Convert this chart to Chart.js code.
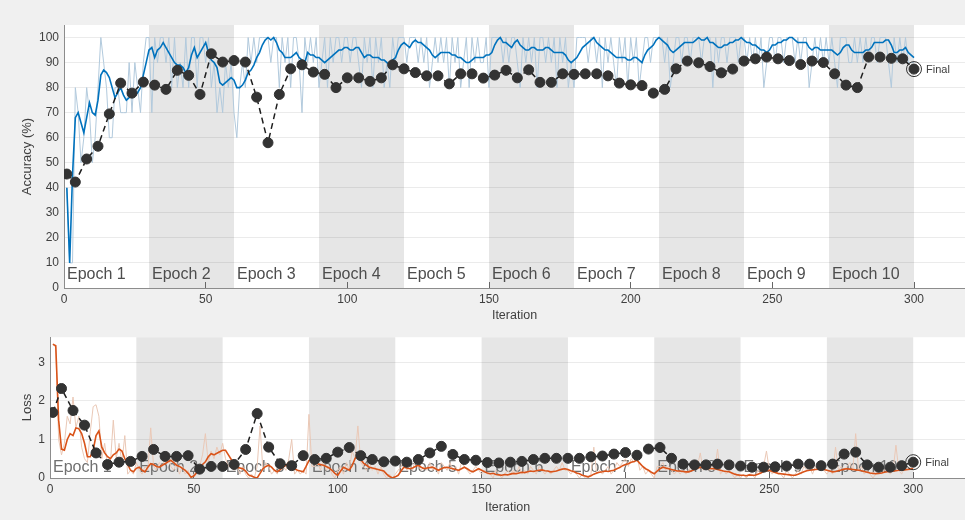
<!DOCTYPE html>
<html>
<head>
<meta charset="utf-8">
<title>Training Progress</title>
<script src="https://cdn.jsdelivr.net/npm/chart.js@4.4.1/dist/chart.umd.min.js"></script>
<style>
  html, body { margin: 0; padding: 0; background: #f0f0f0; }
  #wrap { position: relative; width: 965px; height: 520px; overflow: hidden; }
  .panel { position: absolute; left: 0; width: 965px; }
  #acc-box  { top: 0;     height: 325px; }
  #loss-box { top: 325px; height: 195px; }
</style>
</head>
<body>
<div id="wrap">
  <div class="panel" id="acc-box"><canvas id="chart-acc" width="965" height="325"></canvas></div>
  <div class="panel" id="loss-box"><canvas id="chart-loss" width="965" height="195"></canvas></div>
</div>

<script>
'use strict';

/* ── Run data ── */
const ITERS_PER_EPOCH = 30;
const ITER_MAX = 318;

const epochLabels = ['Epoch 1', 'Epoch 2', 'Epoch 3', 'Epoch 4', 'Epoch 5',
                     'Epoch 6', 'Epoch 7', 'Epoch 8', 'Epoch 9', 'Epoch 10'];

const accTicks  = [0, 10, 20, 30, 40, 50, 60, 70, 80, 90, 100];
const lossTicks = [0, 1, 2, 3];
const iterTicks = [0, 50, 100, 150, 200, 250, 300];

// mini-batch accuracy, one value per iteration (1..300)
const accRaw = [
  40,10,10,80,70,50,60,80,70,50,60,80,100,90,80,60,60,80,80,70,
  70,70,90,70,90,80,70,90,100,100,70,100,90,100,100,90,100,80,100,80,
  90,80,100,80,100,100,80,100,100,90,100,80,90,70,80,70,90,80,90,70,
  60,80,90,80,100,90,100,90,100,100,100,100,90,100,100,80,100,90,100,80,
  100,100,90,70,100,90,100,90,100,80,90,100,80,100,90,100,100,90,100,100,
  90,100,100,90,80,100,90,100,80,100,90,100,80,90,80,100,90,100,100,100,
  90,100,100,100,90,100,90,100,80,90,100,90,100,90,100,80,100,90,100,80,
  90,100,80,100,90,100,90,90,100,80,100,100,100,100,90,100,90,100,100,90,
  80,100,90,100,90,100,80,100,100,90,100,90,100,80,100,90,100,80,90,80,
  100,100,100,100,90,100,100,90,100,80,100,90,100,90,80,100,90,100,80,100,
  90,100,80,90,100,100,90,100,100,100,100,90,100,80,90,100,100,90,100,100,
  90,100,100,100,90,100,100,100,80,100,90,100,100,90,100,100,100,90,100,100,
  90,100,90,100,90,100,80,90,100,100,90,100,100,90,100,100,100,90,100,90,
  100,100,80,90,100,90,100,90,100,90,100,90,80,100,100,100,90,90,100,90,
  100,90,100,90,100,100,90,100,100,100,90,80,100,90,100,90,100,90,90,90,
];

// smoothed accuracy
const accSmooth = [
  40,10,45,68,70,66,62,68,74,70,69,75,85,87,86,84,80,76,78,80,
  77,75,76,77,77,78,80,85,90,95,96,92,95,96,98,96,94,92,90,89,
  89,88,86,88,93,96,92,94,96,98,94,91,90,88,82,81,82,83,84,83,
  80,80,81,83,86,87,89,92,94,97,99,100,99,100,98,95,94,92,92,92,
  93,94,92,91,90,94,93,93,92,92,91,90,91,92,93,94,95,95,96,96,
  95,95,96,96,94,92,93,93,92,92,92,91,91,90,89,91,92,95,97,98,
  97,96,98,99,98,98,97,96,95,93,92,93,94,94,94,94,93,93,92,92,
  91,90,90,91,92,92,92,92,93,93,94,97,99,100,98,98,97,96,98,99,
  97,96,95,95,96,96,95,95,95,96,96,95,94,94,94,94,93,91,90,91,
  92,94,96,97,98,99,100,98,97,96,95,95,94,93,92,92,92,92,91,91,
  92,92,91,90,93,95,96,97,99,100,99,98,97,95,94,95,96,97,98,98,
  98,98,99,100,99,99,100,98,98,97,96,96,97,97,98,98,99,99,100,99,
  98,98,97,97,96,95,95,94,95,97,97,98,98,99,99,100,100,99,98,98,
  98,98,96,95,96,96,95,95,95,95,95,94,93,94,96,97,97,95,94,94,
  94,94,95,95,96,98,98,98,98,99,99,97,94,94,95,95,96,94,93,92,
];

// mini-batch loss, one value per iteration (1..300)
const lossRaw = [
  3.45,3.4,1.0,0.6,0.9,1.6,1.4,2.1,1.3,1.6,0.8,0.5,0.4,1.2,1.85,1.9,1.6,0.5,0.9,0.3,
  0.4,1.5,0.5,0.9,0.4,1.1,0.1,0.2,0.1,0.4,0.2,0.1,0.3,0.2,1.3,0.3,0.2,0.4,0.3,0.5,
  0.6,0.3,0.2,0.4,0.1,0.3,0.1,0.2,0.0,0.1,0.2,0.3,0.6,1.15,0.4,0.7,0.5,0.8,0.6,0.9,
  0.5,0.3,0.4,0.2,0.3,0.1,0.3,0.1,0.0,0.1,0.0,0.3,1.35,0.2,0.4,0.3,0.1,0.2,0.1,0.4,
  0.3,0.2,0.5,1.0,0.1,0.2,0.1,0.2,0.1,1.65,0.3,0.3,0.4,0.2,0.5,0.2,0.3,0.1,0.0,0.2,
  0.3,0.1,0.4,0.2,0.7,0.5,1.35,0.4,0.3,0.2,0.4,0.2,0.3,0.1,0.3,0.1,0.0,0.1,0.0,0.1,
  0.2,0.3,0.5,0.2,0.3,0.2,0.5,0.3,0.2,0.3,0.2,0.4,0.2,0.3,0.1,0.4,0.3,0.2,0.4,0.2,
  0.3,0.1,0.4,0.3,0.2,0.1,0.2,0.3,0.2,0.1,0.2,0.1,0.1,0.0,0.2,0.1,0.0,0.1,0.2,0.1,
  0.2,0.1,0.3,0.1,0.2,0.1,0.3,0.2,0.1,0.3,0.2,0.1,0.2,0.1,0.2,0.3,0.2,0.4,0.2,0.2,
  0.1,0.2,0.1,0.0,0.1,0.0,0.0,0.1,0.8,0.1,0.2,0.1,0.2,0.3,0.1,0.2,0.4,0.3,0.4,0.5,
  0.3,0.5,0.4,0.6,0.2,0.3,0.1,0.2,0.1,0.0,0.3,0.3,0.4,0.2,0.3,0.2,0.1,0.2,0.1,0.2,
  0.1,0.2,0.3,0.2,0.3,0.65,0.2,0.3,0.2,0.3,0.2,0.75,0.1,0.2,0.1,0.2,0.1,0.0,0.1,0.0,
  0.1,0.0,0.1,0.1,0.0,0.2,0.1,0.3,0.7,0.2,0.1,0.2,0.1,0.1,0.0,0.2,0.1,0.0,0.1,0.2,
  0.1,0.3,0.2,0.3,0.1,0.3,0.2,0.3,0.2,0.1,0.2,0.1,0.8,0.2,0.3,0.2,0.3,0.4,0.2,1.15,
  0.2,0.3,0.1,0.2,0.1,0.0,0.1,0.2,0.1,0.2,0.3,0.1,0.2,0.85,0.2,0.1,0.3,0.2,0.3,0.2,
];

// smoothed loss
const lossSmooth = [
  3.47,3.43,1.5,0.75,0.72,1.0,1.15,1.1,1.3,1.28,1.15,0.9,0.55,0.55,0.72,1.1,1.22,0.8,0.65,0.55,
  0.5,0.6,0.65,0.75,0.7,0.5,0.35,0.2,0.16,0.25,0.28,0.2,0.16,0.28,0.37,0.35,0.3,0.28,0.33,0.37,
  0.42,0.46,0.4,0.33,0.3,0.25,0.2,0.12,0.02,0.05,0.14,0.25,0.35,0.42,0.55,0.63,0.6,0.64,0.68,0.72,
  0.72,0.6,0.48,0.35,0.28,0.26,0.24,0.18,0.08,0.05,0.02,0.0,0.12,0.24,0.3,0.33,0.28,0.2,0.16,0.22,
  0.28,0.33,0.4,0.32,0.24,0.2,0.18,0.16,0.3,0.45,0.5,0.42,0.37,0.35,0.33,0.3,0.26,0.2,0.12,0.07,
  0.18,0.28,0.24,0.2,0.32,0.5,0.59,0.48,0.38,0.33,0.28,0.26,0.24,0.22,0.2,0.18,0.1,0.04,0.0,0.03,
  0.07,0.18,0.28,0.26,0.24,0.26,0.3,0.33,0.28,0.24,0.26,0.27,0.28,0.24,0.2,0.24,0.27,0.28,0.26,0.24,
  0.22,0.2,0.24,0.28,0.24,0.19,0.16,0.2,0.24,0.2,0.16,0.13,0.11,0.12,0.09,0.08,0.07,0.09,0.08,0.1,
  0.12,0.11,0.13,0.15,0.14,0.16,0.18,0.17,0.19,0.2,0.21,0.19,0.18,0.16,0.17,0.18,0.21,0.23,0.24,0.22,
  0.19,0.17,0.13,0.11,0.07,0.05,0.03,0.06,0.1,0.13,0.15,0.16,0.18,0.17,0.19,0.2,0.24,0.27,0.32,0.35,
  0.37,0.41,0.43,0.46,0.38,0.3,0.24,0.2,0.15,0.11,0.18,0.24,0.28,0.26,0.24,0.22,0.2,0.18,0.18,0.17,
  0.16,0.16,0.19,0.22,0.25,0.28,0.27,0.26,0.25,0.24,0.24,0.22,0.2,0.18,0.17,0.16,0.13,0.1,0.08,0.07,
  0.07,0.06,0.08,0.07,0.07,0.1,0.13,0.17,0.19,0.2,0.17,0.14,0.12,0.11,0.1,0.09,0.08,0.07,0.07,0.1,
  0.13,0.16,0.19,0.2,0.21,0.22,0.23,0.24,0.22,0.2,0.18,0.16,0.17,0.19,0.21,0.23,0.24,0.23,0.22,0.21,
  0.2,0.19,0.17,0.15,0.13,0.12,0.11,0.12,0.13,0.15,0.16,0.17,0.18,0.19,0.2,0.2,0.21,0.22,0.23,0.24,
];

// validation runs at iteration 1, then every 4 iterations up to 300
const valAcc = [
  45.5,42.3,51.5,56.6,69.5,81.8,77.8,82.2,81.0,79.3,86.9,84.9,77.3,93.5,90.2,90.8,90.2,76.2,58.0,77.3,
  87.5,89.1,86.2,85.3,80.0,83.9,83.9,82.5,83.9,89.1,87.5,86.0,84.7,84.7,81.5,85.5,85.5,83.8,85.0,86.9,
  83.9,87.1,82.1,82.1,85.5,85.3,85.5,85.5,84.7,81.8,81.1,80.8,77.8,79.3,87.5,90.6,89.9,88.4,85.9,87.4,
  90.6,91.5,92.2,91.5,90.8,89.2,90.6,90.0,85.5,81.0,80.0,92.2,92.2,91.7,91.5,87.4,
];
const valLoss = [
  1.70,2.32,1.75,1.37,0.65,0.35,0.41,0.43,0.56,0.74,0.56,0.56,0.58,0.23,0.30,0.30,0.35,0.74,1.67,0.80,
  0.37,0.32,0.58,0.48,0.51,0.67,0.79,0.58,0.48,0.42,0.44,0.41,0.48,0.65,0.82,0.61,0.48,0.46,0.40,0.39,
  0.41,0.43,0.48,0.51,0.51,0.51,0.51,0.55,0.57,0.62,0.66,0.59,0.75,0.79,0.51,0.36,0.34,0.34,0.36,0.34,
  0.31,0.28,0.28,0.29,0.31,0.36,0.36,0.32,0.36,0.62,0.67,0.34,0.28,0.28,0.32,0.41,
];

const iters    = accRaw.map((_, i) => i + 1);
const valIters = valAcc.map((_, i) => (i === 0 ? 1 : i * 4));

/* ── Theme ── */
const C = {
  bg:        '#f0f0f0',
  plot:      '#ffffff',
  band:      '#e6e6e6',
  grid:      'rgba(0,0,0,0.08)',
  axis:      '#8c8c8c',
  text:      '#404040',
  epoch:     '#4d4d4d',
  epochSoft: '#707070',
  accRaw:    '#b2cadd',
  acc:       '#0072bd',
  lossRaw:   '#eac8b6',
  loss:      '#d95319',
  val:       '#1e1e1e',
  marker:    '#333333',
};
const FONT = "'Liberation Sans', Arial, sans-serif";

Chart.defaults.font.family = FONT;
Chart.defaults.animation = false;

const pairs = (xs, ys) => ys.map((y, i) => ({ x: xs[i], y }));
// put the ticks exactly on the listed values
const fixedTicks = (list) => (scale) => { scale.ticks = list.map(v => ({ value: v })); };

/* ============================================================
   PLUGIN: epoch bands, epoch names and the "Final" tag
   ============================================================ */
const epochPlugin = {
  id: 'epochs',
  beforeDraw(chart) {
    const { ctx, chartArea: a, scales: { x } } = chart;
    ctx.save();
    ctx.fillStyle = C.plot;
    ctx.fillRect(a.left, a.top, a.right - a.left, a.bottom - a.top);
    ctx.fillStyle = C.band;
    epochLabels.forEach((_, e) => {
      if (e % 2 === 0) return;
      const x0 = x.getPixelForValue(e * ITERS_PER_EPOCH);
      const x1 = x.getPixelForValue((e + 1) * ITERS_PER_EPOCH);
      ctx.fillRect(x0, a.top, x1 - x0, a.bottom - a.top);
    });
    ctx.restore();
  },
  beforeDatasetsDraw(chart, args, opts) {
    const { ctx, chartArea: a, scales: { x } } = chart;
    ctx.save();
    ctx.font = '16px ' + FONT;
    ctx.fillStyle = opts.color;
    ctx.textBaseline = 'alphabetic';
    epochLabels.forEach((t, e) => {
      ctx.fillText(t, x.getPixelForValue(e * ITERS_PER_EPOCH) + 3, a.bottom - opts.lift);
    });
    ctx.restore();
  },
  afterDatasetsDraw(chart) {
    const { ctx } = chart;
    const pt = chart.getDatasetMeta(3).data[0];
    if (!pt) return;
    ctx.save();
    ctx.font = '11px ' + FONT;
    ctx.fillStyle = C.text;
    ctx.textBaseline = 'middle';
    ctx.fillText('Final', pt.x + 12, pt.y + 1);
    ctx.restore();
  },
};

/* ============================================================
   CHART FACTORY
   ============================================================ */
function makeChart(id, cfg) {
  const last = cfg.valY.length - 1;
  return new Chart(document.getElementById(id), {
    type: 'line',
    data: {
      datasets: [
        {
          data: pairs(iters, cfg.raw),
          borderColor: cfg.rawColor, borderWidth: 1,
          pointRadius: 0, order: 4,
        },
        {
          data: pairs(iters, cfg.smooth),
          borderColor: cfg.color, borderWidth: 1.6,
          pointRadius: 0, order: 3,
        },
        {
          data: pairs(valIters, cfg.valY),
          borderColor: C.val, borderWidth: 1.5, borderDash: [6, 4],
          pointRadius: 5, pointBackgroundColor: C.marker,
          pointBorderColor: C.marker, pointBorderWidth: 1, order: 2,
        },
        {
          data: [{ x: valIters[last], y: cfg.valY[last] }],
          showLine: false, pointRadius: 7.5,
          pointBackgroundColor: 'rgba(0,0,0,0)',
          pointBorderColor: C.marker, pointBorderWidth: 1, order: 1,
        },
      ],
    },
    options: {
      responsive: false,
      devicePixelRatio: 1,
      events: [],
      layout: { autoPadding: false, padding: { top: cfg.padTop, right: 0, bottom: 0, left: 0 } },
      plugins: {
        legend: { display: false },
        tooltip: { enabled: false },
        epochs: { color: cfg.epochColor, lift: cfg.epochLift },
      },
      scales: {
        x: {
          type: 'linear', min: 0, max: ITER_MAX,
          afterBuildTicks: fixedTicks(iterTicks),
          afterFit: (s) => { s.height = cfg.xHeight; },
          ticks: { color: C.text, font: { size: 12 }, padding: cfg.xTickPad,
                   maxRotation: 0, autoSkip: false },
          grid: { drawOnChartArea: false, drawTicks: true, tickLength: -6, color: '#666' },
          border: { color: C.axis },
          title: { display: true, text: 'Iteration', color: C.text, font: { size: 12.5 },
                   padding: { top: 0, bottom: cfg.xTitlePad } },
        },
        y: {
          min: 0, max: cfg.yMax,
          afterBuildTicks: fixedTicks(cfg.yTicks),
          afterFit: (s) => { s.width = cfg.yWidth; },
          ticks: { color: C.text, font: { size: 12 }, padding: 5 },
          grid: { color: C.grid, drawTicks: false },
          border: { color: C.axis },
          title: { display: true, text: cfg.yTitle, color: C.text, font: { size: 13 },
                   padding: { top: 20, bottom: 0 } },
        },
      },
    },
    plugins: [epochPlugin],
  });
}

/* ── Accuracy panel ── */
makeChart('chart-acc', {
  raw: accRaw, smooth: accSmooth, valY: valAcc,
  rawColor: C.accRaw, color: C.acc,
  yTitle: 'Accuracy (%)', yMax: 105, yTicks: accTicks, yWidth: 64,
  padTop: 25, xHeight: 37, xTickPad: 10, xTitlePad: 2,
  epochColor: C.epoch, epochLift: 9,
});

/* ── Loss panel ── */
makeChart('chart-loss', {
  raw: lossRaw, smooth: lossSmooth, valY: valLoss,
  rawColor: C.lossRaw, color: C.loss,
  yTitle: 'Loss', yMax: 3.65, yTicks: lossTicks, yWidth: 50,
  padTop: 11, xHeight: 42, xTickPad: 10, xTitlePad: 5,
  epochColor: C.epochSoft, epochLift: 6,
});
</script>
</body>
</html>
